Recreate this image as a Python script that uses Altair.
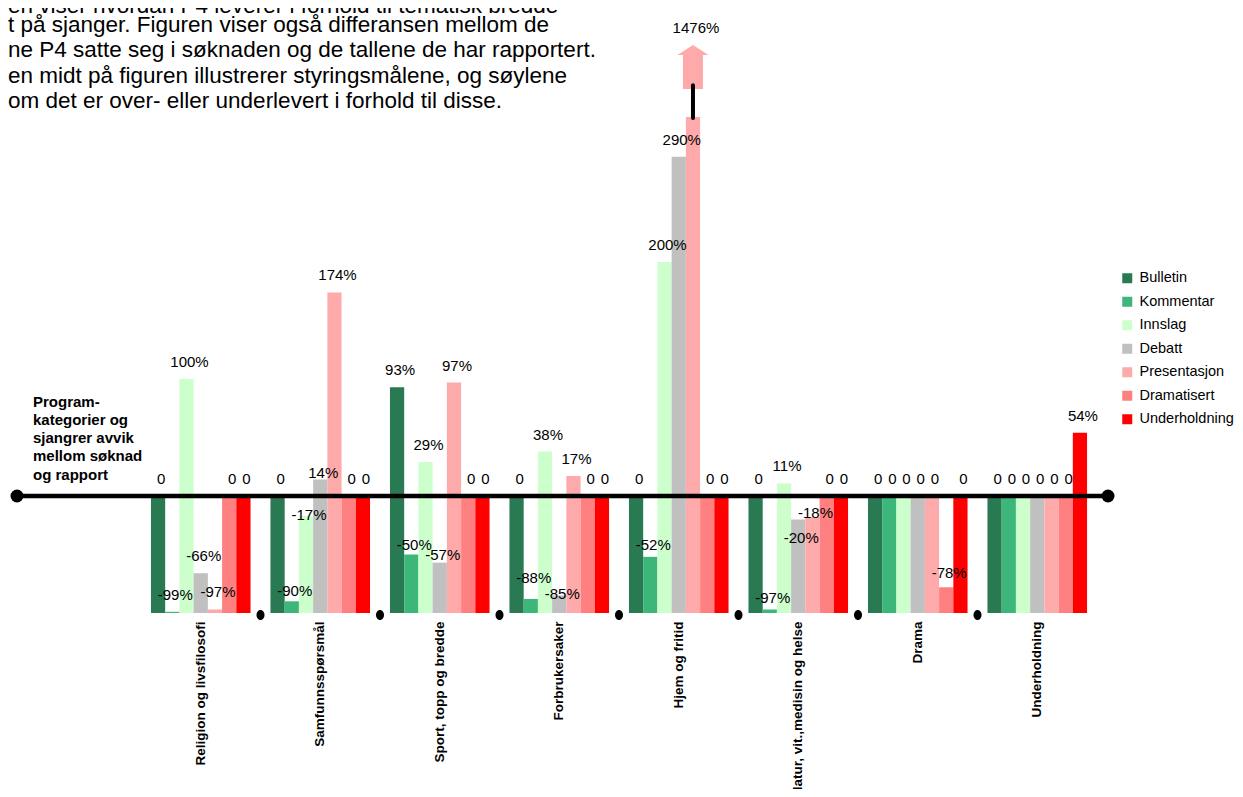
import altair as alt
import pandas as pd

categories = ["Religion og livsfilosofi", "Samfunnsspørsmål", "Sport, topp og bredde",
              "Forbrukersaker", "Hjem og fritid", "Natur, vit.,medisin og helse",
              "Drama", "Underholdning"]
series = ["Bulletin", "Kommentar", "Innslag", "Debatt", "Presentasjon", "Dramatisert", "Underholdning"]
colors = ["#297A52", "#3DB67A", "#CCFFCC", "#C0C0C0", "#FFAAAA", "#FF8080", "#FF0000"]

# avvik mellom søknad og rapport, i prosent
bulletin = [0, 0, 93, 0, 0, 0, 0, 0]
kommentar = [-99, -90, -50, -88, -52, -97, 0, 0]
innslag = [100, -17, 29, 38, 200, 11, 0, 0]
debatt = [-66, 14, -57, -85, 290, -20, 0, 0]
presentasjon = [-97, 174, 97, 17, 1476, -18, 0, 0]
dramatisert = [0, 0, 0, 0, 0, 0, -78, 0]
underholdning = [0, 0, 0, 0, 0, 0, 0, 54]

paragraph_first = "en viser hvordan P4 leverer i forhold til tematisk bredde"
paragraph = [
    "t på sjanger. Figuren viser også differansen mellom de",
    "ne P4 satte seg i søknaden og de tallene de har rapportert.",
    "en midt på figuren illustrerer styringsmålene, og søylene",
    "om det er over- eller underlevert i forhold til disse.",
]
side_title = ["Program-", "kategorier og", "sjangrer avvik", "mellom søknad", "og rapport"]

# layout / style constants
Y_MAX = 5.0
PLOT_H = 585
PX_PER_UNIT = PLOT_H / Y_MAX
BREAK_AT = 4.24
ARROW_BASE = 4.48
ARROW_TIP = 4.855
LABEL_GAP = 17  # px above bar top (label centre)
LABEL_GAP_OVERRIDE = {
    ("Samfunnsspørsmål", "Kommentar"): 10,
    ("Samfunnsspørsmål", "Innslag"): 1,
    ("Samfunnsspørsmål", "Debatt"): 7,
    ("Sport, topp og bredde", "Kommentar"): 10,
    ("Sport, topp og bredde", "Debatt"): 8,
    ("Forbrukersaker", "Kommentar"): 21,
    ("Forbrukersaker", "Debatt"): 1,
    ("Hjem og fritid", "Kommentar"): 12,
    ("Natur, vit.,medisin og helse", "Kommentar"): 11,
    ("Natur, vit.,medisin og helse", "Debatt"): -19,
    ("Natur, vit.,medisin og helse", "Presentasjon"): 4,
    ("Drama", "Dramatisert"): 14,
}

values = [bulletin, kommentar, innslag, debatt, presentasjon, dramatisert, underholdning]
rows = []
for s, vals in zip(series, values):
    for c, v in zip(categories, vals):
        ratio = 1 + v / 100.0
        shown = min(ratio, BREAK_AT)
        anchor = ARROW_TIP if ratio > BREAK_AT else shown
        gap = LABEL_GAP_OVERRIDE.get((c, s), LABEL_GAP)
        rows.append({
            "cat": c, "series": s, "pct": v, "ratio": ratio, "shown": shown,
            "label": "0" if v == 0 else f"{v}%",
            "label_y": anchor + gap / PX_PER_UNIT,
            "broken": ratio > BREAK_AT,
            "arrow_mid": (ARROW_BASE + ARROW_TIP) / 2,
            "break_lo": BREAK_AT - 0.01,
            "break_hi": ARROW_BASE + 0.03,
        })
df = pd.DataFrame(rows)
broken = df[df["broken"]]
seps = pd.DataFrame({"cat": categories[:-1]})
one = pd.DataFrame({"k": [0]})

FONT = "Liberation Sans"

xscale = alt.Scale(domain=categories, paddingInner=0.1667, paddingOuter=0.0833)
yscale = alt.Scale(domain=[0, Y_MAX], nice=False, zero=True)
xoff = alt.XOffset("series:N", sort=series, scale=alt.Scale(domain=series, paddingInner=0, paddingOuter=0))

X = alt.X("cat:N", scale=xscale, sort=categories,
          axis=alt.Axis(title=None, labelAngle=-90, labelFont=FONT, labelFontWeight="bold",
                        labelFontSize=13.5, labelColor="black", labelPadding=8, ticks=False,
                        domain=False, grid=False, labelLimit=400, labelOverlap=False,
                        labelBound=False))

bars = alt.Chart(df).mark_bar(strokeWidth=0).encode(
    x=X,
    xOffset=xoff,
    y=alt.Y("shown:Q", scale=yscale, axis=None),
    color=alt.Color("series:N", sort=series,
                    scale=alt.Scale(domain=series, range=colors),
                    legend=alt.Legend(orient="none", legendX=979, legendY=243, title=None,
                                      symbolType="square", symbolSize=100, symbolStrokeWidth=0,
                                      labelFont=FONT, labelFontSize=14.5, labelColor="black",
                                      rowPadding=8.5, padding=0, labelOffset=5, labelLimit=200)),
)

axis_line = alt.Chart(one).mark_rule(color="black", strokeWidth=4.5).encode(
    x=alt.value(-124), x2=alt.value(967), y=alt.datum(1.0))

end_left = alt.Chart(one).mark_point(filled=True, color="black", opacity=1, size=169, shape="circle").encode(
    x=alt.value(-124), y=alt.datum(1.0))
end_right = alt.Chart(one).mark_point(filled=True, color="black", opacity=1, size=169, shape="circle").encode(
    x=alt.value(967), y=alt.datum(1.0))

# small elliptical marker half a category step to the right of each band centre
ellipse_right = "M 11.95 -1 A 0.8 1 0 1 1 11.95 1 A 0.8 1 0 1 1 11.95 -1 Z"
sep_dots = alt.Chart(seps).mark_point(filled=True, color="black", opacity=1, size=100,
                                      shape=ellipse_right, strokeWidth=0).encode(
    x=alt.X("cat:N", scale=xscale, sort=categories),
    y=alt.datum(-0.017))

labels = alt.Chart(df).mark_text(font=FONT, fontSize=15, color="black", dx=3, baseline="middle").encode(
    x=alt.X("cat:N", scale=xscale, sort=categories),
    xOffset=xoff,
    y=alt.Y("label_y:Q", scale=yscale),
    text="label:N")

arrow_path = "M 0 -1 L 0.705 -0.545 L 0.4545 -0.545 L 0.4545 1 L -0.4545 1 L -0.4545 -0.545 L -0.705 -0.545 Z"
arrow = alt.Chart(broken).mark_point(filled=True, color="#FFAAAA", opacity=1, size=1936,
                                     shape=arrow_path, strokeWidth=0).encode(
    x=alt.X("cat:N", scale=xscale, sort=categories),
    xOffset=xoff,
    y=alt.Y("arrow_mid:Q", scale=yscale))

break_mark = alt.Chart(broken).mark_rule(color="black", strokeWidth=4, strokeCap="round").encode(
    x=alt.X("cat:N", scale=xscale, sort=categories),
    xOffset=xoff,
    y=alt.Y("break_lo:Q", scale=yscale),
    y2="break_hi:Q")

para1 = alt.Chart(one).mark_text(font=FONT, fontSize=22.5, align="left", baseline="alphabetic",
                                 color="black").encode(
    x=alt.value(-133), y=alt.value(-15), text=alt.value(paragraph_first))
para = alt.Chart(one).mark_text(font=FONT, fontSize=22.5, align="left", baseline="alphabetic",
                                lineHeight=25.5, color="black").encode(
    x=alt.value(-133), y=alt.value(3.5), text=alt.value(paragraph))

side = alt.Chart(one).mark_text(font=FONT, fontSize=15, fontWeight="bold", align="left",
                                baseline="alphabetic", lineHeight=18.3, color="black").encode(
    x=alt.value(-108), y=alt.value(378.5), text=alt.value(side_title))

chart = alt.layer(
    bars, axis_line, end_left, end_right, sep_dots, labels, arrow, break_mark, para1, para, side
).properties(
    width=956, height=PLOT_H,
    autosize=alt.AutoSizeParams(type="none"),
    padding={"left": 133, "top": 20, "right": 138, "bottom": 176},
).configure(
    background="white",
    view=alt.ViewConfig(stroke="transparent"),
)

chart.save("out.html", embed_options={"renderer": "svg", "actions": False})
